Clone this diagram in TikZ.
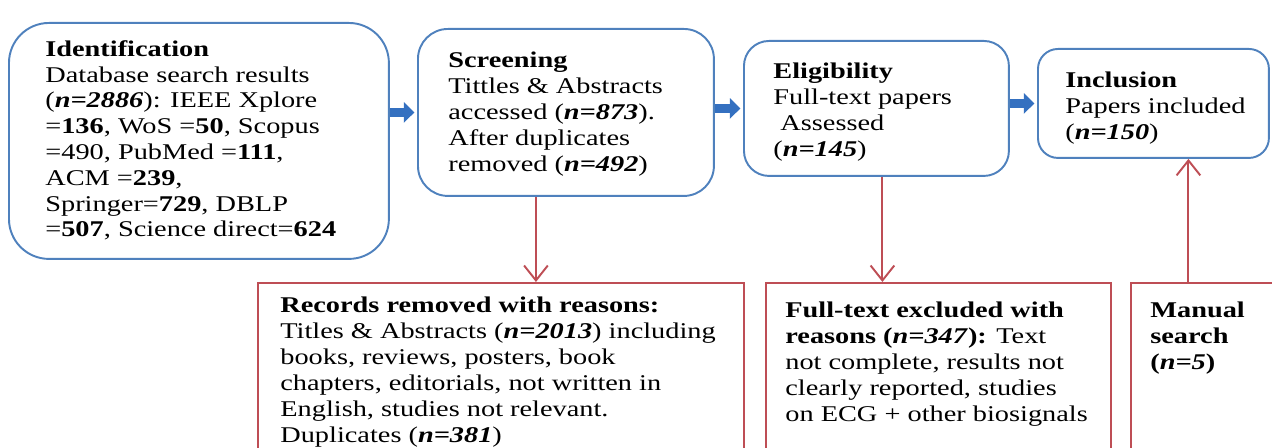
\documentclass[tikz,border=0pt]{standalone}
\usepackage{fontspec}
\setmainfont{Liberation Serif}[FakeStretch=1.26]
\usetikzlibrary{arrows.meta, positioning}
\definecolor{boxblue}{RGB}{79,129,189}
\definecolor{flowblue}{RGB}{52,112,192}
\definecolor{boxred}{RGB}{190,78,85}
\newcommand{\nval}[1]{\textbf{\textit{#1}}}

\begin{document}
\begin{tikzpicture}[x=0.02cm, y=-0.02cm,
    stage/.style={draw=boxblue, line width=1.1pt, fill=white, anchor=north west, inner sep=0pt},
    reason/.style={draw=boxred, line width=1.1pt, fill=white, anchor=north west, inner sep=0pt},
    txt/.style={anchor=north west, inner sep=0pt, align=left, font=\fontsize{12.8}{14.7}\selectfont},
    flow/.style={flowblue, line width=5.5pt, -{Triangle[length=6pt, width=11.5pt]}, shorten >=1.5pt},
    side/.style={boxred, line width=1.1pt, -{Straight Barb[length=8.5pt, width=13.5pt]}}]
    \useasboundingbox (0,0) rectangle (1272,448);
    \clip (0,0) rectangle (1272,448);
    \node[stage, minimum width=7.6cm, minimum height=4.72cm, rounded corners=0.8cm] (ident) at (8,22) {};
    \node[stage, minimum width=5.92cm, minimum height=3.34cm, rounded corners=0.6cm] (screen) at (417,28) {};
    \node[stage, minimum width=5.3cm, minimum height=2.7cm, rounded corners=0.5cm] (elig) at (743,40) {};
    \node[stage, minimum width=4.62cm, minimum height=2.18cm, rounded corners=0.4cm] (incl) at (1037,48) {};
    \node[reason, minimum width=9.72cm, minimum height=4cm] (records) at (257,282) {};
    \node[reason, minimum width=6.9cm, minimum height=4cm] (fulltext) at (765,282) {};
    \node[reason, minimum width=4cm, minimum height=4cm] (manual) at (1130,282) {};

    \node[txt] (identtxt) at ([shift={(37,18)}]ident.north west) {\textbf{Identification}\\
        Database search results\\
        (\nval{n=2886}): IEEE Xplore\\
        =\textbf{136}, WoS =\textbf{50}, Scopus\\
        =490, PubMed =\textbf{111},\\
        ACM =\textbf{239},\\
        Springer=\textbf{729}, DBLP\\
        =\textbf{507}, Science direct=\textbf{624}};
    \node[txt] (screentxt) at ([shift={(31,24)}]screen.north west) {\textbf{Screening}\\
        Tittles \& Abstracts\\
        accessed (\nval{n=873}).\\
        After duplicates\\
        removed (\nval{n=492})};
    \node[txt] (eligtxt) at ([shift={(30,23)}]elig.north west) {\textbf{Eligibility}\\
        Full-text papers\\
        \ Assessed\\
        (\nval{n=145})};
    \node[txt] (incltxt) at ([shift={(28,24)}]incl.north west) {\textbf{Inclusion}\\
        Papers included\\
        (\nval{n=150})};
    \node[txt] (recordstxt) at ([shift={(23,15)}]records.north west) {\textbf{Records removed with reasons:}\\
        Titles \& Abstracts (\nval{n=2013}) including\\
        books, reviews, posters, book\\
        chapters, editorials, not written in\\
        English, studies not relevant.\\
        Duplicates (\nval{n=381})};
    \node[txt] (fulltexttxt) at ([shift={(20,20)}]fulltext.north west) {\textbf{Full-text excluded with}\\
        \textbf{reasons (\textit{n=347}):} Text\\
        not complete, results not\\
        clearly reported, studies\\
        on ECG + other biosignals};
    \node[txt] (manualtxt) at ([shift={(20,20)}]manual.north west) {\textbf{Manual}\\
        \textbf{search}\\
        \textbf{(\textit{n=5})}};

    \foreach \a/\b in {ident/screen, screen/elig, elig/incl}
        \draw[flow] (\a.east |- \b.west) -- (\b.west);
    \draw[side] ([shift={(-30,0)}]screen.south) -- ([shift={(-30,0)}]screen.south |- records.north);
    \draw[side] ([shift={(6,0)}]elig.south) -- ([shift={(6,0)}]elig.south |- fulltext.north);
    \draw[side] ([shift={(35,0)}]incl.south |- manual.north) -- ([shift={(35,0)}]incl.south);
\end{tikzpicture}
\end{document}
